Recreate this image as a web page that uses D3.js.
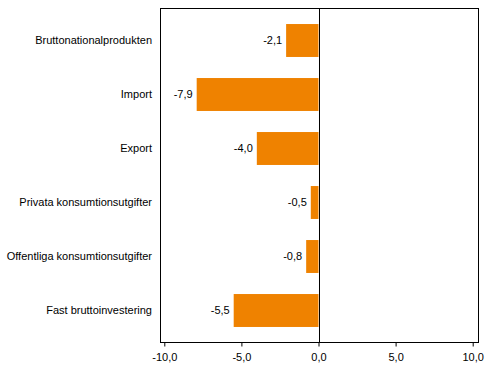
<!DOCTYPE html>
<html><head><meta charset="utf-8">
<script src="https://cdn.jsdelivr.net/npm/d3@7"></script>
<style>body{margin:0;background:#fff}svg{display:block}text{font-family:"Liberation Sans",Arial,sans-serif;font-size:11px;fill:#000}</style>
</head><body>
<script>
const categories = ["Bruttonationalprodukten","Import","Export","Privata konsumtionsutgifter","Offentliga konsumtionsutgifter","Fast bruttoinvestering"];
const values = [-2.1,-7.9,-4.0,-0.5,-0.8,-5.5];
const tickValues = [-10,-5,0,5,10];

const W=491,H=377;
const svg=d3.select("body").append("svg").attr("width",W).attr("height",H);
const frame={l:160,r:478,t:8,b:342};
const x=d3.scaleLinear().domain([-10,10]).range([164.3,472.7]);
const y=d3.scaleBand().domain(categories).range([13.5,337.5]).paddingInner(0.39).paddingOuter(0.195);
const fmt=v=>d3.format(".1f")(v).replace(".",",").replace("−","-");

svg.append("rect").attr("x",frame.l+0.5).attr("y",frame.t+0.5).attr("width",frame.r-frame.l).attr("height",frame.b-frame.t).attr("fill","none").attr("stroke","#000");

svg.selectAll("rect.bar").data(values).join("rect").attr("class","bar")
 .attr("x",d=>x(Math.min(0,d))).attr("width",d=>Math.abs(x(d)-x(0)))
 .attr("y",(d,i)=>y(categories[i])).attr("height",y.bandwidth()).attr("fill","#ef8200");

svg.append("line").attr("x1",Math.round(x(0))+0.5).attr("x2",Math.round(x(0))+0.5).attr("y1",frame.t).attr("y2",frame.b).attr("stroke","#000");

svg.selectAll("text.val").data(values).join("text").attr("class","val")
 .attr("x",d=>x(Math.min(0,d))-4).attr("y",(d,i)=>y(categories[i])+y.bandwidth()/2).attr("dy","0.35em")
 .attr("text-anchor","end").text(fmt);

svg.selectAll("text.cat").data(categories).join("text").attr("class","cat")
 .attr("x",152).attr("y",d=>y(d)+y.bandwidth()/2).attr("dy","0.35em").attr("text-anchor","end").text(d=>d);

const ax=d3.axisBottom(x).tickValues(tickValues).tickSize(4).tickSizeOuter(0).tickFormat(fmt);
const g=svg.append("g").attr("transform",`translate(0,${frame.b+0.5})`).call(ax);
g.select(".domain").remove();
g.selectAll("line").attr("stroke","#000");
g.selectAll("text").attr("dy","1.05em").attr("fill","#000").style("font-size","11px").style("font-family","Liberation Sans, Arial, sans-serif");
</script>
</body></html>
